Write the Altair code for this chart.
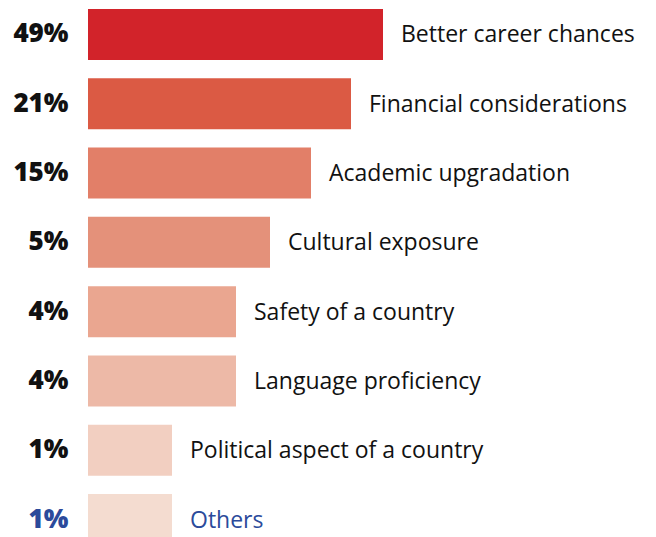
import altair as alt
import pandas as pd

reasons = [
    "Better career chances",
    "Financial considerations",
    "Academic upgradation",
    "Cultural exposure",
    "Safety of a country",
    "Language proficiency",
    "Political aspect of a country",
    "Others",
]
shares = [49, 21, 15, 5, 4, 4, 1, 1]
# displayed bar lengths (the infographic does not draw bars proportionally)
bar_lengths = [295, 263, 223, 182, 148, 148, 84, 84]
colors = ["#D2232A", "#DB5A44", "#E27F68", "#E4917A", "#EAA690", "#EDB9A7", "#F2CFC1", "#F4DCD0"]

df = pd.DataFrame({"reason": reasons, "share": shares, "bar_length": bar_lengths})

FONT = "Open Sans"
BLUE = "#2B4A9B"
INK = "#111111"

label_expr = (
    "[" + ",".join(f"'{s}%'" for s in shares) + "][indexof(["
    + ",".join(f"'{r}'" for r in reasons) + "], datum.value)]"
)

y_enc = alt.Y(
    "reason:N",
    sort=reasons,
    scale=alt.Scale(range=[1, 537], paddingInner=0.264, paddingOuter=0),
    axis=alt.Axis(
        title=None,
        domain=False,
        ticks=False,
        labelExpr=label_expr,
        labelFont=FONT,
        labelFontSize=26,
        labelFontWeight=800,
        labelColor={"condition": {"test": "datum.value === 'Others'", "value": BLUE}, "value": INK},
        labelPadding=20,
    ),
)
x_scale = alt.Scale(domain=[0, 560], nice=False)

bars = alt.Chart(df).mark_bar(clip=True).encode(
    x=alt.X("bar_length:Q", scale=x_scale, axis=None),
    y=y_enc,
    color=alt.Color("reason:N", scale=alt.Scale(domain=reasons, range=colors), legend=None),
)

labels = alt.Chart(df).mark_text(
    align="left", baseline="middle", dx=18, dy=1, font=FONT, fontSize=23
).encode(
    x=alt.X("bar_length:Q", scale=x_scale, axis=None),
    y=y_enc,
    text="reason:N",
    color=alt.condition(alt.datum.reason == "Others", alt.value(BLUE), alt.value(INK)),
)

chart = (
    alt.layer(bars, labels)
    .properties(width=560, height=529, padding={"left": 4, "top": 0, "right": 0, "bottom": 0})
    .configure_view(stroke=None)
)

chart.save("out.html", embed_options={"renderer": "svg", "actions": False})
